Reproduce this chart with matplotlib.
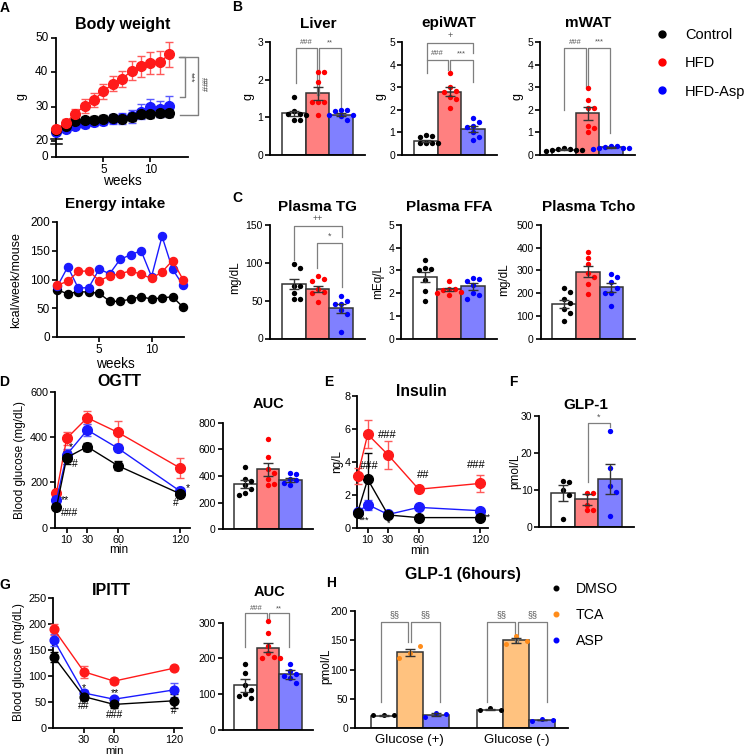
import numpy as np
import matplotlib
matplotlib.use('Agg')
import matplotlib.pyplot as plt
import matplotlib.transforms as mtransforms
from matplotlib.lines import Line2D

plt.rcParams['font.family'] = ['Liberation Sans', 'DejaVu Sans']

# ------------------------------------------------------------------ data
groups = ['Control', 'HFD', 'HFD-Asp']

# A: body weight (g), weeks 0..12
weeks_bw = [0, 1, 2, 3, 4, 5, 6, 7, 8, 9, 10, 11, 12]
bw_ctrl = [23.2, 24.3, 25.9, 26.1, 26.3, 26.5, 26.6, 26.5, 27.0, 28.0, 28.0, 28.2, 28.3]
bw_ctrl_err = [0.5, 0.7, 0.8, 0.9, 1.0, 1.0, 1.0, 1.0, 1.1, 1.2, 1.2, 1.2, 1.2]
bw_hfd = [23.6, 25.4, 28.0, 30.3, 32.0, 34.5, 36.7, 38.1, 40.5, 41.8, 42.6, 42.9, 45.3]
bw_hfd_err = [0.8, 1.1, 1.5, 2.0, 2.0, 2.1, 2.2, 2.3, 2.8, 3.0, 3.2, 3.4, 3.6]
bw_asp = [22.8, 23.6, 24.4, 25.0, 25.5, 26.0, 26.5, 26.6, 27.2, 28.6, 29.8, 29.3, 30.1]
bw_asp_err = [0.6, 0.9, 1.0, 1.1, 1.2, 1.3, 1.5, 1.6, 1.8, 2.2, 2.5, 2.3, 2.9]
bw_ticks = [0, 20, 30, 40, 50]

# A: energy intake (kcal/week/mouse), weeks 1..13
weeks_ei = [1, 2, 3, 4, 5, 6, 7, 8, 9, 10, 11, 12, 13]
ei_ctrl = [82, 75, 79, 78, 76, 62, 62, 66, 70, 66, 68, 70, 52]
ei_hfd = [90, 97, 114, 115, 98, 106, 110, 115, 109, 102, 113, 133, 100]
ei_asp = [88, 122, 85, 86, 118, 110, 135, 143, 150, 105, 175, 118, 90]

# B: organ weights (g)
liver_means = [1.11, 1.64, 1.07]
liver_sems = [0.07, 0.17, 0.04]
liver_pts = [[1.55, 1.17, 1.08, 1.08, 1.07, 0.92, 0.92],
             [2.2, 2.2, 1.95, 1.42, 1.42, 1.42, 1.07],
             [1.2, 1.2, 1.18, 1.05, 1.05, 1.03, 0.92]]
epi_means = [0.62, 2.8, 1.14]
epi_sems = [0.06, 0.2, 0.13]
epi_pts = [[0.88, 0.82, 0.8, 0.52, 0.52, 0.52, 0.52],
           [3.62, 3.0, 2.85, 2.8, 2.55, 2.5, 2.1],
           [1.65, 1.47, 1.3, 1.25, 1.03, 0.8, 0.66]]
mwat_means = [0.24, 1.84, 0.34]
mwat_sems = [0.02, 0.27, 0.02]
mwat_pts = [[0.3, 0.28, 0.25, 0.22, 0.2, 0.18, 0.2],
            [2.98, 2.43, 2.1, 2.1, 1.3, 1.2, 1.0],
            [0.4, 0.38, 0.35, 0.33, 0.33, 0.3, 0.28]]

# C: plasma lipids
tg_means = [72, 66, 40]
tg_sems = [6, 4, 6]
tg_pts = [[98, 93, 70, 70, 60, 52, 52],
          [82, 78, 76, 65, 62, 60, 48],
          [56, 50, 46, 46, 38, 33, 8]]
ffa_means = [2.72, 2.17, 2.3]
ffa_sems = [0.22, 0.08, 0.14]
ffa_pts = [[3.48, 3.1, 3.05, 3.0, 2.6, 2.1, 1.65],
           [2.55, 2.2, 2.2, 2.15, 2.05, 2.0, 1.9],
           [2.65, 2.62, 2.55, 2.35, 2.0, 1.9, 1.75]]
tcho_means = [153, 295, 226]
tcho_sems = [18, 25, 20]
tcho_pts = [[225, 205, 175, 155, 130, 115, 80],
            [383, 354, 328, 290, 273, 241, 196],
            [284, 272, 250, 225, 200, 200, 145]]

# D: OGTT (mg/dL)
t_ogtt = [0, 10, 30, 60, 120]
ogtt_ctrl = [90, 309, 357, 273, 150]
ogtt_ctrl_err = [8, 30, 18, 20, 10]
ogtt_hfd = [153, 394, 485, 420, 264]
ogtt_hfd_err = [15, 28, 28, 50, 45]
ogtt_asp = [122, 322, 431, 350, 162]
ogtt_asp_err = [10, 25, 25, 12, 10]
ogtt_auc_means = [340, 450, 370]
ogtt_auc_sems = [30, 50, 15]
ogtt_auc_pts = [[470, 380, 365, 330, 300, 270, 260],
                [680, 545, 455, 420, 380, 340, 330],
                [425, 415, 380, 370, 350, 330]]

# E: insulin (ng/L)
t_ins = [0, 10, 30, 60, 120]
ins_ctrl = [0.93, 2.95, 0.79, 0.63, 0.63]
ins_ctrl_err = [0.1, 1.6, 0.1, 0.1, 0.08]
ins_hfd = [3.15, 5.68, 4.43, 2.35, 2.7]
ins_hfd_err = [0.5, 0.85, 0.85, 0.12, 0.5]
ins_asp = [0.95, 1.42, 0.82, 1.25, 1.05]
ins_asp_err = [0.1, 0.3, 0.1, 0.12, 0.08]

# F: GLP-1 (pmol/L)
glp_means = [9.1, 7.4, 12.9]
glp_sems = [2.2, 1.5, 4.0]
glp_pts = [[12.5, 12.0, 10.0, 8.7, 2.1],
           [9.2, 9.2, 6.0, 4.4, 4.4],
           [25.8, 16.0, 11.0, 9.5, 2.9]]

# G: IPITT (mg/dL)
t_ipitt = [0, 30, 60, 120]
ip_ctrl = [137, 60, 45, 52]
ip_ctrl_err = [10, 6, 6, 14]
ip_hfd = [190, 108, 90, 115]
ip_hfd_err = [10, 12, 6, 3]
ip_asp = [169, 67, 55, 73]
ip_asp_err = [12, 6, 5, 14]
ip_auc_means = [125, 230, 155]
ip_auc_sems = [18, 12, 12]
ip_auc_pts = [[183, 160, 125, 110, 100, 95, 90],
              [305, 270, 235, 215, 205, 200, 200],
              [183, 165, 155, 150, 145, 130]]

# H: GLP-1 (6hours) in vitro
h_conditions = ['Glucose (+)', 'Glucose (-)']
h_treatments = ['DMSO', 'TCA', 'ASP']
h_dmso = [21.5, 31.5]
h_tca = [129.3, 149.8]
h_asp = [23.3, 14.0]
h_dmso_sem = [0.3, 1.2]
h_tca_sem = [6.0, 4.0]
h_asp_sem = [2.0, 0.6]
h_dmso_pts = [[22, 22, 22], [30.5, 34, 31]]
h_tca_pts = [[120, 127.5, 140.5], [142.8, 157.5, 149]]
h_asp_pts = [[19.2, 26.5, 24.2], [13, 15, 14]]

# ------------------------------------------------------------------ style
W, H = 750, 755
fig = plt.figure(figsize=(W / 100, H / 100), dpi=100)

RED = '#ff1a1a'
BLUE = '#1a1aff'
BLACK = '#000000'
RED_E = '#ff5a5a'
BLUE_E = '#5a5aff'
FILLS = ['white', '#ff8080', '#8080ff']
DOTS = [BLACK, '#ff0000', '#0000ff']
GRAY = '#7f7f7f'


def axpx(x0, x1, yt, yb):
    a = fig.add_axes([x0 / W, 1 - yb / H, (x1 - x0) / W, (yb - yt) / H])
    a.patch.set_visible(False)
    return a


def txt(x, y, s, **kw):
    kw.setdefault('ha', 'center')
    kw.setdefault('va', 'center')
    fig.text(x / W, 1 - y / H, s, **kw)


def style(ax, fs=7.5):
    for s in ('top', 'right'):
        ax.spines[s].set_visible(False)
    for s in ('left', 'bottom'):
        ax.spines[s].set_linewidth(1.3)
    ax.tick_params(direction='out', length=3.5, width=1.2, labelsize=fs, pad=1.5)


def swarm(ax, xc, vals, d=6.0):
    tr = ax.transData
    vals = np.asarray(vals, float)
    pts = tr.transform(np.column_stack([np.full(len(vals), xc), vals]))
    ppu = tr.transform([[1, 0]])[0][0] - tr.transform([[0, 0]])[0][0]
    placed = []
    offs = np.zeros(len(vals))
    for k in np.argsort(-vals):
        y = pts[k, 1]
        cand = 0.0
        for j in range(0, 30):
            cand = 0.0 if j == 0 else ((j + 1) // 2) * d * (1 if j % 2 else -1)
            if all((cand - px) ** 2 + (y - py) ** 2 >= d * d * 0.9 for px, py in placed):
                break
        placed.append((cand, y))
        offs[k] = cand / ppu
    return offs


def bar_panel(ax, means, sems, pts, ylim, yticks, fs=7.5):
    style(ax, fs)
    ax.set_xlim(-1, 3)
    ax.set_ylim(*ylim)
    ax.set_yticks(yticks)
    ax.set_xticks([])
    for i in range(3):
        ax.bar(i, means[i], width=1.0, color=FILLS[i], edgecolor='#333333', lw=1.1, zorder=1)
    for i in range(3):
        offs = swarm(ax, i, pts[i])
        ax.scatter(np.array(offs) + i, pts[i], s=15, color=DOTS[i], lw=0, zorder=3, clip_on=False)
        ax.errorbar(i, means[i], yerr=sems[i], color='#333333', capsize=3.5, lw=1,
                    capthick=1, zorder=4)


def bracket(ax, x1, x2, y, y1, y2, text, fs=5.5, dy=0.0, color=GRAY):
    ax.plot([x1, x1, x2, x2], [y1, y, y, y2], color=color, lw=0.9, clip_on=False, zorder=2)
    ax.text((x1 + x2) / 2, y + dy, text, ha='center', va='bottom', fontsize=fs,
            color='#555555', clip_on=False)


def series(ax, x, y, e, color, ecolor, ms, lw=1.0):
    ax.errorbar(x, y, yerr=e, color=color, ecolor=ecolor, marker='o', ms=ms, mec=color,
                lw=lw, elinewidth=1, capsize=3, capthick=1, clip_on=False, zorder=3)


# ------------------------------------------------------------------ A1 body weight
# broken y axis: 0-20 compressed, 20-50 linear
def fwd(y):
    y = np.asarray(y, float)
    return np.where(y < 20, y * 4.6 / 20, y - 15.4)


ax = axpx(55.5, 188, 38, 157)
style(ax, 8.5)
ax.set_ylim(0, float(fwd(50)))
ax.set_xlim(-0.1, 14)
tick_locs = [float(v) for v in fwd(bw_ticks)]
ax.set_yticks(tick_locs, labels=[''] * len(tick_locs))
ylab_tr = mtransforms.offset_copy(ax.get_yaxis_transform(), fig=fig, x=-5.2, y=0, units='points')
for loc, lab in zip(tick_locs, bw_ticks):
    ax.text(0, loc, str(lab), transform=ylab_tr, ha='right', va='center', fontsize=8.5,
            clip_on=False)
ax.set_xticks([5, 10])
for yv, ev, c, ec in [(bw_asp, bw_asp_err, BLUE, BLUE_E), (bw_ctrl, bw_ctrl_err, BLACK, BLACK),
                      (bw_hfd, bw_hfd_err, RED, RED_E)]:
    yv = np.asarray(yv)
    ev = np.asarray(ev)
    yy = fwd(yv)
    series(ax, weeks_bw, yy, [yy - fwd(yv - ev), fwd(yv + ev) - yy], c, ec, 7)
for yb in (17.0, 20.7):
    ax.plot([-0.6, 0.6], [fwd(yb), fwd(yb)], color='k', lw=1.1, clip_on=False, zorder=5)
ax.plot([13.15, 13.7, 13.7, 13.15], fwd([44.5, 44.5, 32.9, 32.9]), color=GRAY, lw=1, clip_on=False)
ax.plot([13.0, 15.1, 15.1, 13.15], fwd([44.5, 44.5, 27.7, 27.7]), color=GRAY, lw=1, clip_on=False)
ax.text(14.25, fwd(38.7), '***', rotation=270, ha='center', va='center', fontsize=6.5, color='#444')
ax.text(15.6, fwd(36.5), '###', rotation=270, ha='center', va='center', fontsize=6.5, color='#444')
txt(122.5, 25, 'Body weight', fontsize=11.5, fontweight='bold')
txt(21, 97, 'g', fontsize=9, rotation=90)
txt(122.5, 181, 'weeks', fontsize=9.8)

# ------------------------------------------------------------------ A2 energy intake
ax = axpx(57, 183.5, 222, 337)
style(ax, 8.5)
ax.set_xlim(0.97, 13.05)
ax.set_ylim(0, 200)
ax.set_yticks([0, 50, 100, 150, 200])
ax.set_xticks([5, 10])
ax.plot(weeks_ei, ei_ctrl, color=BLACK, marker='o', ms=5.8, lw=1, clip_on=False, zorder=3)
ax.plot(weeks_ei, ei_asp, color=BLUE, marker='o', ms=5.8, lw=1, clip_on=False, zorder=3)
ax.plot(weeks_ei, ei_hfd, color=RED, marker='o', ms=5.8, lw=1, clip_on=False, zorder=3)
txt(115.3, 204, 'Energy intake', fontsize=11, fontweight='bold')
txt(16, 280, 'kcal/week/mouse', fontsize=9, rotation=90)
txt(115, 364, 'weeks', fontsize=9.8)

# ------------------------------------------------------------------ B
ax = axpx(270, 365, 42, 155)
bar_panel(ax, liver_means, liver_sems, liver_pts, (0, 3), [0, 1, 2, 3])
bracket(ax, 0.1, 0.97, 2.84, 1.92, 1.6, '###', dy=0.05)
bracket(ax, 1.05, 2.0, 2.84, 1.6, 1.28, '**', dy=0.05)
txt(318, 23.5, 'Liver', fontsize=11, fontweight='bold')
txt(248.5, 97, 'g', fontsize=9, rotation=90)

ax = axpx(402, 497, 42, 155)
bar_panel(ax, epi_means, epi_sems, epi_pts, (0, 5), [0, 1, 2, 3, 4, 5])
bracket(ax, 0.05, 1.97, 4.97, 4.2, 4.5, '+', fs=6.5, dy=0.12)
bracket(ax, 0.05, 0.93, 4.2, 3.64, 3.75, '###', dy=0.12)
bracket(ax, 1.04, 1.97, 4.2, 3.75, 3.24, '***', dy=0.12)
txt(449, 23, 'epiWAT', fontsize=11, fontweight='bold')
txt(380, 97, 'g', fontsize=9, rotation=90)

ax = axpx(540, 635, 42, 155)
bar_panel(ax, mwat_means, mwat_sems, mwat_pts, (0, 5), [0, 1, 2, 3, 4, 5])
bracket(ax, 0.03, 0.95, 4.72, 2.0, 3.0, '###', dy=0.12)
bracket(ax, 1.02, 1.96, 4.72, 3.0, 0.97, '***', dy=0.12)
txt(588, 23, 'mWAT', fontsize=11, fontweight='bold')
txt(517, 97, 'g', fontsize=9, rotation=90)

# legend A/B
handles = [Line2D([], [], ls='none', marker='o', ms=5, color=c) for c in DOTS]
fig.legend(handles, groups, loc='upper left', bbox_to_anchor=(655 / W, 1 - 28 / H),
           frameon=False, fontsize=10.5, handlelength=1.0, handletextpad=1.05,
           labelspacing=0.98, borderpad=0, borderaxespad=0)

# ------------------------------------------------------------------ C
ax = axpx(270, 365, 225, 338.5)
bar_panel(ax, tg_means, tg_sems, tg_pts, (0, 150), [0, 50, 100, 150])
bracket(ax, 0.02, 2.02, 149, 104, 134.6, '++', fs=6.5, dy=3)
bracket(ax, 0.97, 2.02, 126.7, 93, 68.5, '*', fs=6.5, dy=3)
txt(318, 207, 'Plasma TG', fontsize=11, fontweight='bold')
txt(235, 278, 'mg/dL', fontsize=8.5, rotation=90)

ax = axpx(401, 497, 225, 338.7)
bar_panel(ax, ffa_means, ffa_sems, ffa_pts, (0, 5), [0, 1, 2, 3, 4, 5])
txt(449.7, 207, 'Plasma FFA', fontsize=11, fontweight='bold')
txt(378.5, 282, 'mEq/L', fontsize=8.5, rotation=90)

ax = axpx(540.7, 635, 225, 338.7)
bar_panel(ax, tcho_means, tcho_sems, tcho_pts, (0, 500), [0, 100, 200, 300, 400, 500])
txt(588.3, 207, 'Plasma Tcho', fontsize=11, fontweight='bold')
txt(504, 280, 'mg/dL', fontsize=8.5, rotation=90)

# ------------------------------------------------------------------ D OGTT
ax = axpx(55, 190, 391.7, 527.6)
style(ax, 7.8)
ax.set_xlim(-1.4, 130)
ax.set_ylim(0, 600)
ax.set_yticks([0, 200, 400, 600])
ax.set_xticks([10, 30, 60, 120])
series(ax, t_ogtt, ogtt_hfd, ogtt_hfd_err, RED, RED_E, 7)
series(ax, t_ogtt, ogtt_asp, ogtt_asp_err, BLUE, BLUE_E, 7)
series(ax, t_ogtt, ogtt_ctrl, ogtt_ctrl_err, BLACK, BLACK, 7)
for x, y, s in [(4, 122, '**'), (4, 66, '###'), (12.5, 357, '*'), (15, 281, '#'),
                (126, 173, '*'), (113, 107, '#')]:
    ax.text(x, y, s, ha='left', va='center', fontsize=7.5, clip_on=False)
txt(119, 382, 'OGTT', fontsize=11.5, fontweight='bold')
txt(20, 460, 'Blood glucose (mg/dL)', fontsize=8.5, rotation=90)
txt(119, 550, 'min', fontsize=8.5)

ax = axpx(222.7, 313, 422.7, 529.3)
bar_panel(ax, ogtt_auc_means, ogtt_auc_sems, ogtt_auc_pts, (0, 800), [0, 200, 400, 600, 800])
txt(269, 404, 'AUC', fontsize=10.5, fontweight='bold')

# ------------------------------------------------------------------ E insulin
ax = axpx(356.7, 488, 396, 528)
style(ax, 7.8)
ax.tick_params(axis='y', pad=1)
ax.set_xlim(-0.8, 128)
ax.set_ylim(0, 8)
ax.set_yticks([0, 2, 4, 6, 8])
ax.set_xticks([10, 30, 60, 120])
series(ax, t_ins, ins_asp, ins_asp_err, BLUE, BLUE_E, 7)
series(ax, t_ins, ins_ctrl, ins_ctrl_err, BLACK, BLACK, 7)
series(ax, t_ins, ins_hfd, ins_hfd_err, RED, RED_E, 7)
for x, y, s in [(2.5, 3.76, '###'), (20, 5.64, '###'), (58, 3.2, '##'), (107, 3.8, '###')]:
    ax.text(x, y, s, ha='left', va='center', fontsize=8, clip_on=False)
for x, y, s in [(1.5, 0.5, '***'), (30, 0.3, '*'), (62, 0.3, '*'), (124, 0.63, '**')]:
    ax.text(x, y, s, ha='left' if s != '*' else 'center', va='center', fontsize=6.5, clip_on=False)
txt(421, 391, 'Insulin', fontsize=11.3, fontweight='bold')
txt(337, 462, 'ng/L', fontsize=8.5, rotation=90)
txt(420, 550.7, 'min', fontsize=8.5)

# ------------------------------------------------------------------ F GLP-1
ax = axpx(539.3, 634, 416, 526.7)
bar_panel(ax, glp_means, glp_sems, glp_pts, (0, 30), [0, 10, 20, 30])
bracket(ax, 1.05, 2.0, 28.0, 12.0, 27.0, '*', fs=6.5, dy=0.4)
txt(586, 405, 'GLP-1', fontsize=11, fontweight='bold')
txt(515, 471, 'pmol/L', fontsize=8.5, rotation=90)

# ------------------------------------------------------------------ G IPITT
ax = axpx(53.3, 182, 598.3, 727.7)
style(ax, 7.8)
ax.set_xlim(-0.7, 128)
ax.set_ylim(0, 250)
ax.set_yticks([0, 50, 100, 150, 200, 250])
ax.set_xticks([30, 60, 120])
series(ax, t_ipitt, ip_hfd, ip_hfd_err, RED, RED_E, 6.3)
series(ax, t_ipitt, ip_asp, ip_asp_err, BLUE, BLUE_E, 6.3)
series(ax, t_ipitt, ip_ctrl, ip_ctrl_err, BLACK, BLACK, 6.3)
for x, y, s in [(30, 77, '*'), (30, 42, '##'), (61, 66, '**'), (61, 24, '###'), (120, 32, '#')]:
    ax.text(x, y, s, ha='center', va='center', fontsize=7.5, clip_on=False)
txt(111.7, 590.5, 'IPITT', fontsize=11.5, fontweight='bold')
txt(19, 662, 'Blood glucose (mg/dL)', fontsize=8.5, rotation=90)
txt(114, 750.5, 'min', fontsize=8.2)

ax = axpx(222.7, 313, 622.7, 729.7)
bar_panel(ax, ip_auc_means, ip_auc_sems, ip_auc_pts, (0, 300), [0, 100, 200, 300])
bracket(ax, 0.0, 0.95, 326, 232, 312, '###', dy=4)
bracket(ax, 1.05, 1.95, 326, 312, 232, '**', dy=4)
txt(269.5, 592, 'AUC', fontsize=10.5, fontweight='bold')

# ------------------------------------------------------------------ H
ax = axpx(355, 568.3, 610.7, 728.3)
style(ax, 7.5)
ax.set_xlim(-2.1, 6.1)
ax.set_ylim(0, 200)
ax.set_yticks([0, 50, 100, 150, 200])
centers = [0, 4.1]
ax.set_xticks(centers)
ax.set_xticklabels(h_conditions, fontsize=9.5)
ax.tick_params(axis='x', length=0, pad=4)
h_vals = [h_dmso, h_tca, h_asp]
h_sems = [h_dmso_sem, h_tca_sem, h_asp_sem]
h_pts = [h_dmso_pts, h_tca_pts, h_asp_pts]
h_fill = ['white', '#ffc27f', '#8080ff']
h_dot = [BLACK, '#ff8c1a', '#0000ff']
for g, c in enumerate(centers):
    for k in range(3):
        xk = c + (k - 1)
        ax.bar(xk, h_vals[k][g], width=1.0, color=h_fill[k], edgecolor='#333333', lw=1.1, zorder=1)
        ax.scatter(xk + np.array([-0.4, 0.0, 0.4]), h_pts[k][g], s=13, color=h_dot[k], lw=0, zorder=3)
        ax.errorbar(xk, h_vals[k][g], yerr=h_sems[k][g], color='#333333', capsize=3.5, lw=1,
                    capthick=1, zorder=4)
    bracket(ax, c - 1.11, c - 0.05, 181, 44, 147, '§§', fs=6.5, dy=4)
    bracket(ax, c + 0.05, c + 1.17, 181, 147, 44, '§§', fs=6.5, dy=4)
txt(463.3, 574, 'GLP-1 (6hours)', fontsize=11.5, fontweight='bold')
txt(326, 666, 'pmol/L', fontsize=8.5, rotation=90)
handles = [Line2D([], [], ls='none', marker='o', ms=3.3, color=c) for c in h_dot]
fig.legend(handles, h_treatments, loc='upper left', bbox_to_anchor=(549 / W, 1 - 582 / H),
           frameon=False, fontsize=10.2, handlelength=1.0, handletextpad=0.9,
           labelspacing=0.85, borderpad=0, borderaxespad=0)

# ------------------------------------------------------------------ panel letters
for x, y, s in [(5, 8, 'A'), (237, 7, 'B'), (237, 198, 'C'), (4, 382, 'D'), (329, 382, 'E'),
                (513, 382, 'F'), (5, 585, 'G'), (331, 583, 'H')]:
    txt(x, y, s, fontsize=10, fontweight='bold')

fig.savefig('out.png', dpi=100)
